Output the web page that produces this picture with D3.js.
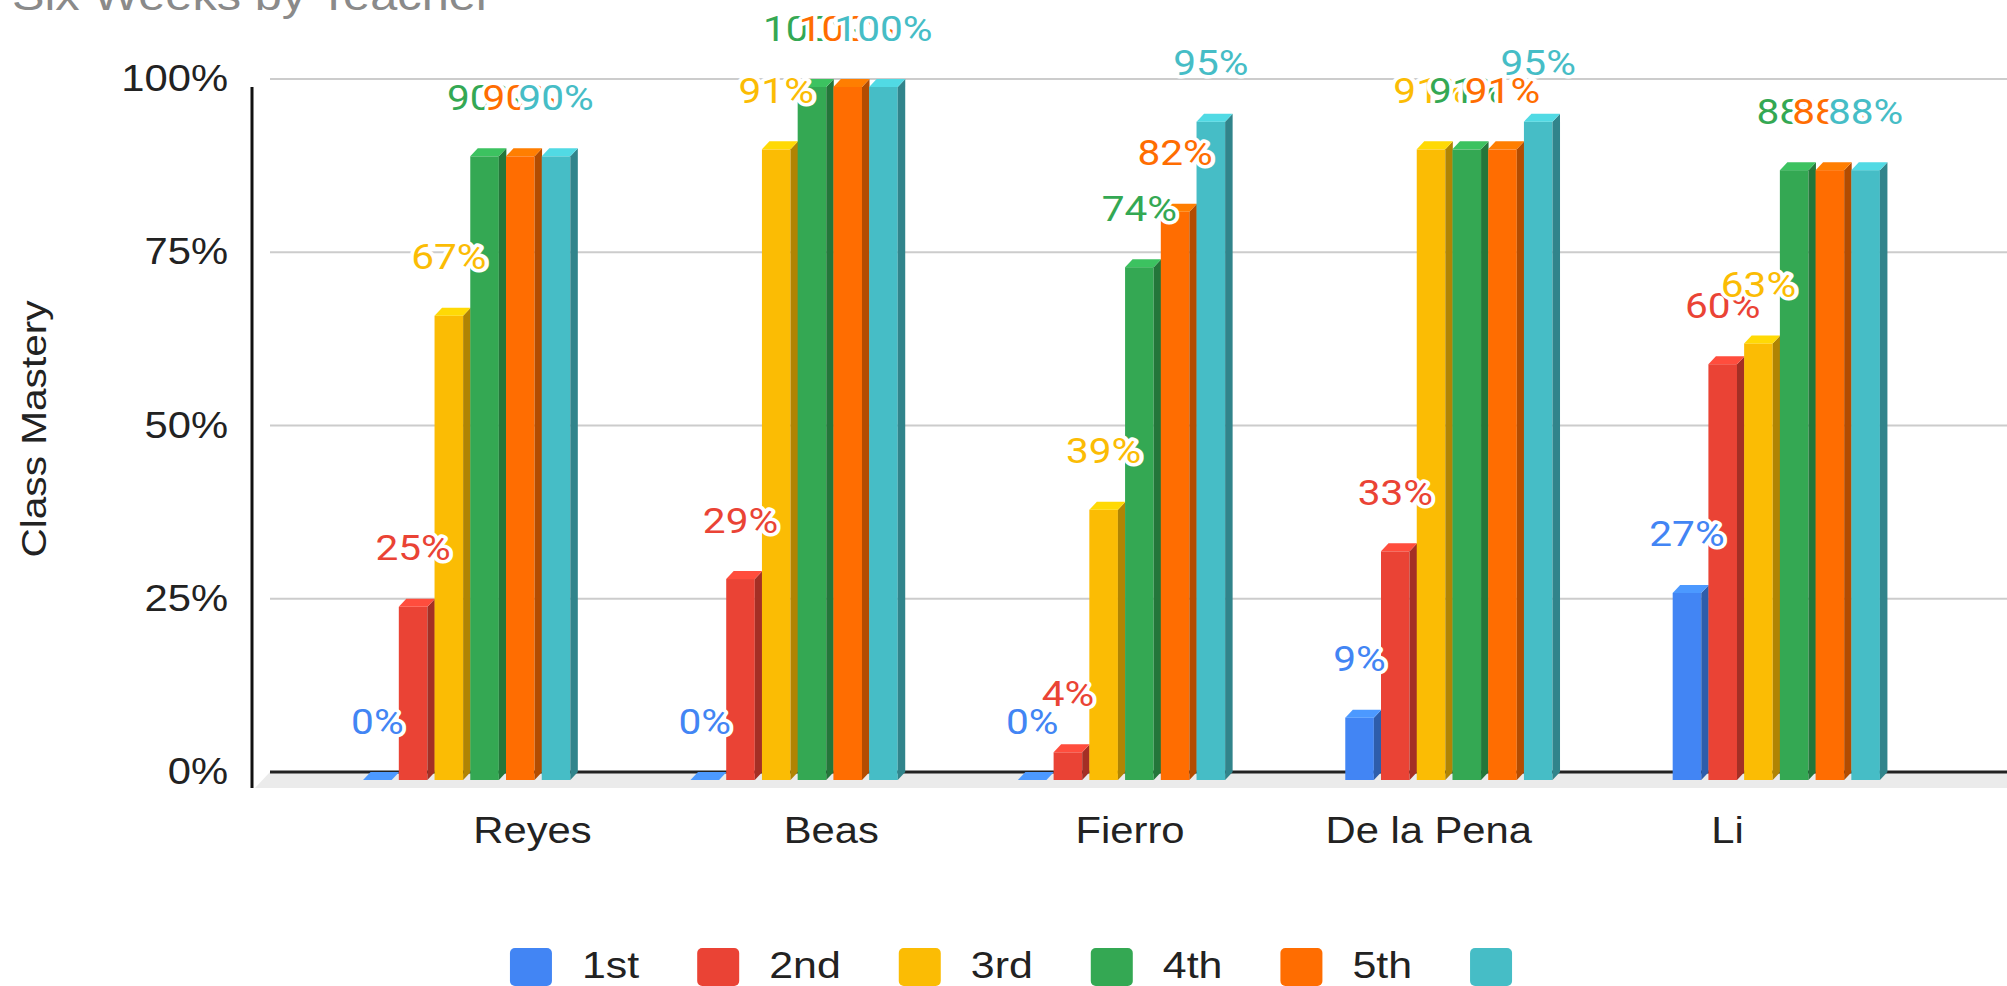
<!DOCTYPE html>
<html>
<head>
<meta charset="utf-8">
<script src="https://cdn.jsdelivr.net/npm/d3@7"></script>
<style>
  body { margin: 0; background: #fff; }
  svg { display: block; }
</style>
</head>
<body>
<div id="chart"></div>
<script>
// Class mastery by teacher, one series per six-weeks period
const teachers = ['Reyes', 'Beas', 'Fierro', 'De la Pena', 'Li'];
const periods = ['1st', '2nd', '3rd', '4th', '5th', ''];
const periodColors = ['#4285F4', '#EA4335', '#FBBC04', '#34A853', '#FF6D01', '#46BDC6'];

const period1 = [0, 0, 0, 9, 27];
const period2 = [25, 29, 4, 33, 60];
const period3 = [67, 91, 39, 91, 63];
const period4 = [90, 100, 74, 91, 88];
const period5 = [90, 100, 82, 91, 88];
const period6 = [90, 100, 95, 95, 88];
const seriesValues = [period1, period2, period3, period4, period5, period6];

const yTicks = [0, 25, 50, 75, 100];

const chartTitle = 'Six Weeks by Teacher';
const yTitle = 'Class Mastery';

function drawChart() {
  const width = 2007;
  const height = 986;
  const stretch = 1.16;          // reference text is drawn a bit wide
  const dx = 7.5, dy = 8;        // 3D depth offset of bars
  const axisFont = '"Liberation Sans", Arial, sans-serif';

  const svg = d3.select('#chart')
    .append('svg')
    .attr('width', width)
    .attr('height', height);

  // scales
  const y = d3.scaleLinear().domain([0, 100]).range([772, 79]);
  const x0 = d3.scaleBand()
    .domain(teachers)
    .range([303, 1940])
    .paddingInner(0.367)
    .paddingOuter(0.1835);
  const x1 = d3.scaleBand()
    .domain(d3.range(periods.length))
    .range([0, x0.bandwidth()])
    .paddingInner(0.2);
  const xLabel = d3.scalePoint().domain(teachers).range([532, 1727]);

  const y0 = y(0);

  // widen text horizontally, keeping its anchor
  function widen(sel) {
    sel.each(function() {
      const t = d3.select(this);
      const x = +t.attr('x') || 0;
      t.attr('x', x / stretch).attr('transform', `scale(${stretch},1)`);
    });
  }

  // title (cut off at the top in the reference)
  svg.append('text')
    .attr('transform', `translate(12,10) scale(${stretch},1)`)
    .style('font-family', axisFont)
    .style('font-size', '42px')
    .attr('fill', '#8a8a8a')
    .text(chartTitle);

  // floor
  svg.append('polygon')
    .attr('points', [[270, y0], [width, y0], [width, y0 + 16], [255, y0 + 16]].join(' '))
    .attr('fill', '#ebebeb');

  // gridlines
  svg.append('g')
    .selectAll('line')
    .data(yTicks.filter(d => d > 0))
    .join('line')
    .attr('x1', 270)
    .attr('x2', width)
    .attr('y1', d => y(d))
    .attr('y2', d => y(d))
    .attr('stroke', '#cccccc')
    .attr('stroke-width', 2);

  // baseline
  svg.append('line')
    .attr('x1', 270)
    .attr('x2', width)
    .attr('y1', y0)
    .attr('y2', y0)
    .attr('stroke', '#222')
    .attr('stroke-width', 3);

  // y axis
  const yAxis = svg.append('g')
    .attr('transform', 'translate(252,0)')
    .call(d3.axisLeft(y).tickValues(yTicks).tickSize(0).tickPadding(24).tickFormat(d => d + '%'));
  yAxis.select('.domain').remove();
  yAxis.selectAll('text')
    .style('font-family', axisFont)
    .style('font-size', '36px')
    .attr('fill', '#222')
    .call(widen);

  svg.append('line')
    .attr('x1', 252)
    .attr('x2', 252)
    .attr('y1', y(100) + dy)
    .attr('y2', y0 + 16)
    .attr('stroke', '#111')
    .attr('stroke-width', 3);

  svg.append('text')
    .attr('transform', `translate(46,429) rotate(-90) scale(${stretch},1)`)
    .attr('text-anchor', 'middle')
    .style('font-family', axisFont)
    .style('font-size', '35px')
    .attr('fill', '#222')
    .text(yTitle);

  // x axis labels
  const xAxis = svg.append('g')
    .attr('transform', 'translate(0,817)')
    .call(d3.axisBottom(xLabel).tickSize(0).tickPadding(0));
  xAxis.select('.domain').remove();
  xAxis.selectAll('text')
    .style('font-family', axisFont)
    .style('font-size', '36px')
    .attr('fill', '#222')
    .call(widen);

  // flat list of bars
  const bars = [];
  teachers.forEach((t, ti) => {
    seriesValues.forEach((vals, si) => {
      bars.push({ teacher: t, series: si, value: vals[ti] });
    });
  });

  const bw = x1.bandwidth();
  const barX = d => x0(d.teacher) + x1(d.series);

  const barG = svg.append('g')
    .selectAll('g')
    .data(bars)
    .join('g');

  // front face
  barG.append('rect')
    .attr('x', d => barX(d))
    .attr('y', d => y(d.value) + dy)
    .attr('width', bw)
    .attr('height', d => y0 - y(d.value))
    .attr('fill', d => periodColors[d.series]);

  // side face
  barG.append('polygon')
    .attr('points', d => {
      const bx = barX(d), yv = y(d.value);
      return [[bx + bw, yv + dy], [bx + bw + dx, yv], [bx + bw + dx, y0], [bx + bw, y0 + dy]].join(' ');
    })
    .attr('fill', d => d3.color(periodColors[d.series]).darker(1));

  // top face
  barG.append('polygon')
    .attr('points', d => {
      const bx = barX(d), yv = y(d.value);
      return [[bx, yv + dy], [bx + dx, yv], [bx + bw + dx, yv], [bx + bw, yv + dy]].join(' ');
    })
    .attr('fill', d => d3.color(periodColors[d.series]).brighter(0.4));

  // value labels, one series at a time so later ones sit on top
  const labelG = svg.append('g');
  periods.forEach((p, si) => {
    labelG.append('g')
      .selectAll('text')
      .data(bars.filter(d => d.series === si))
      .join('text')
      .attr('transform', d => `translate(${barX(d) + bw / 2},${y(d.value) - 38.5}) scale(${stretch},1)`)
      .attr('text-anchor', 'middle')
      .style('font-family', 'Roboto, "Liberation Sans", sans-serif')
      .style('font-size', '35px')
      .attr('fill', periodColors[si])
      .attr('stroke', '#fff')
      .attr('stroke-width', 7)
      .attr('stroke-linejoin', 'round')
      .attr('paint-order', 'stroke')
      .text(d => d.value + '%');
  });

  // legend
  const legend = svg.append('g');
  const swatch = 42, swatchGap = 30, itemGap = 58;
  let cursor = 0;
  periods.forEach((p, i) => {
    const item = legend.append('g').attr('transform', `translate(${cursor},0)`);
    item.append('rect')
      .attr('x', 0)
      .attr('y', 948)
      .attr('width', swatch)
      .attr('height', 38)
      .attr('rx', 5)
      .attr('fill', periodColors[i]);
    const label = item.append('text')
      .attr('transform', `translate(${swatch + swatchGap},978) scale(${stretch},1)`)
      .style('font-family', axisFont)
      .style('font-size', '37px')
      .attr('fill', '#222')
      .text(p);
    const tw = p ? label.node().getComputedTextLength() * stretch : 0;
    cursor += p ? swatch + swatchGap + tw + itemGap : swatch;
  });
  legend.attr('transform', `translate(${1011 - cursor / 2},0)`);
}

drawChart();
</script>
</body>
</html>
